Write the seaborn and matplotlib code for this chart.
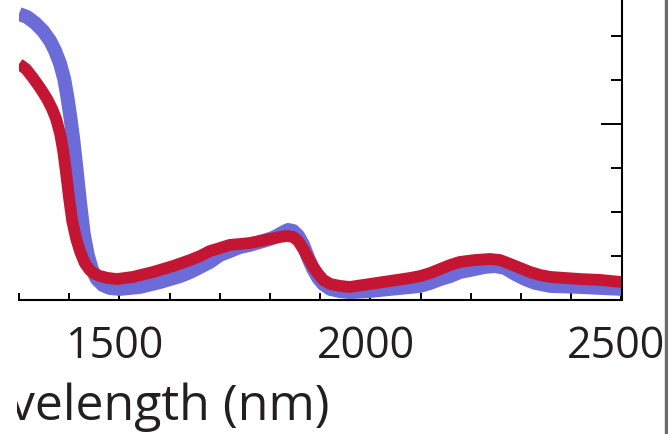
import matplotlib
matplotlib.use("Agg")
import matplotlib.pyplot as plt
import matplotlib.transforms as mtransforms
from matplotlib.patches import Rectangle
from matplotlib.ticker import MultipleLocator, FixedLocator, NullFormatter
import seaborn as sns
import pandas as pd

# blue spectrum
wl_blue = [1300, 1316, 1332, 1348, 1362, 1372, 1382, 1390, 1396, 1402, 1408, 1414,
           1422, 1429, 1437, 1445, 1455, 1467, 1481, 1501, 1541, 1581, 1621, 1641,
           1661, 1680, 1700, 1720, 1740, 1760, 1780, 1800, 1810, 1824, 1836, 1846,
           1856, 1866, 1876, 1886, 1896, 1906, 1920, 1939, 1959, 1999, 2039, 2079,
           2099, 2119, 2139, 2159, 2178, 2198, 2228, 2248, 2268, 2288, 2308, 2328,
           2358, 2418, 2500]
val_blue = [1.625, 1.608, 1.574, 1.528, 1.472, 1.415, 1.341, 1.256, 1.159, 1.045, 0.915, 0.761,
            0.545, 0.375, 0.256, 0.176, 0.119, 0.085, 0.068, 0.063, 0.074, 0.102, 0.136, 0.159,
            0.188, 0.216, 0.256, 0.278, 0.301, 0.313, 0.330, 0.347, 0.358, 0.381, 0.398, 0.392,
            0.364, 0.313, 0.239, 0.176, 0.125, 0.091, 0.063, 0.051, 0.045, 0.051, 0.063, 0.074,
            0.080, 0.097, 0.119, 0.136, 0.159, 0.170, 0.188, 0.193, 0.182, 0.148, 0.119, 0.097,
            0.080, 0.074, 0.063]

# red spectrum
wl_red = [1300, 1314, 1328, 1342, 1356, 1366, 1374, 1382, 1388, 1394, 1400, 1406,
          1414, 1422, 1431, 1441, 1451, 1461, 1477, 1495, 1527, 1567, 1607, 1641,
          1661, 1680, 1700, 1720, 1740, 1760, 1780, 1800, 1820, 1834, 1846, 1856,
          1866, 1876, 1886, 1896, 1906, 1920, 1939, 1959, 1999, 2039, 2079, 2099,
          2119, 2139, 2159, 2178, 2208, 2238, 2258, 2278, 2298, 2318, 2338, 2358,
          2388, 2418, 2457, 2500]
val_red = [1.341, 1.312, 1.261, 1.205, 1.142, 1.085, 1.028, 0.943, 0.847, 0.716, 0.574, 0.449,
           0.347, 0.273, 0.210, 0.170, 0.148, 0.136, 0.125, 0.119, 0.131, 0.159, 0.193, 0.227,
           0.250, 0.278, 0.295, 0.313, 0.318, 0.324, 0.335, 0.347, 0.358, 0.364, 0.358, 0.335,
           0.290, 0.239, 0.188, 0.148, 0.114, 0.091, 0.080, 0.074, 0.091, 0.108, 0.125, 0.136,
           0.153, 0.176, 0.199, 0.216, 0.227, 0.233, 0.227, 0.205, 0.182, 0.159, 0.142, 0.131,
           0.125, 0.119, 0.114, 0.102]

x_labels = [1500, 2000, 2500]

sns.set_style("white")
plt.rcParams['font.family'] = ['Open Sans', 'DejaVu Sans']

fig = plt.figure(figsize=(6.68, 4.35), dpi=100)
ax = fig.add_axes([19 / 668, 134 / 435, (621.5 - 19) / 668, 301 / 435])

df_b = pd.DataFrame({'wl': wl_blue, 'val': val_blue})
df_r = pd.DataFrame({'wl': wl_red, 'val': val_red})
sns.lineplot(data=df_b, x='wl', y='val', color='#6b6cd8', lw=10, ax=ax,
             solid_capstyle='butt', solid_joinstyle='round')
sns.lineplot(data=df_r, x='wl', y='val', color='#c41632', lw=8.5, ax=ax,
             solid_capstyle='butt', solid_joinstyle='round')

ax.set_xlim(1300, 2500)
ax.set_ylim(0, 1.71)
ax.set_xlabel('')
ax.set_ylabel('')

for s in ['left', 'top']:
    ax.spines[s].set_visible(False)
for s in ['bottom', 'right']:
    ax.spines[s].set_color('black')
    ax.spines[s].set_linewidth(1.5)

ax.xaxis.set_major_locator(FixedLocator(x_labels))
ax.xaxis.set_minor_locator(MultipleLocator(100))
ax.tick_params(axis='x', which='both', direction='in', length=5, width=1.4,
               color='black', labelsize=31, labelcolor='#231f20', pad=17,
               top=False, bottom=True)

ax.yaxis.tick_right()
ax.yaxis.set_major_locator(MultipleLocator(1))
ax.yaxis.set_minor_locator(MultipleLocator(0.25))
ax.yaxis.set_major_formatter(NullFormatter())
ax.tick_params(axis='y', which='major', direction='in', length=15, width=1.4, color='black')
ax.tick_params(axis='y', which='minor', direction='in', length=8, width=1.4, color='black')
ax.tick_params(axis='y', which='both', left=False, right=True)

shift = mtransforms.ScaledTranslation(-5 / 100, 0, fig.dpi_scale_trans)
for lab in ax.get_xticklabels():
    lab.set_transform(lab.get_transform() + shift)

# axis label, cut at the left edge of the panel
xl = fig.text(330 / 668, 15 / 435, 'Wavelength (nm)', ha='right', va='baseline',
              fontsize=36, color='#231f20')
clip = mtransforms.TransformedBbox(mtransforms.Bbox([[17 / 668, 0], [1, 0.3]]), fig.transFigure)
xl.set_clip_box(clip)
xl.set_clip_on(True)

# edge of the neighbouring panel
fig.patches.append(Rectangle((665 / 668, 0), 3 / 668, 1, transform=fig.transFigure,
                             color='#6e6a68', zorder=5))

fig.savefig('out.png', dpi=100)
